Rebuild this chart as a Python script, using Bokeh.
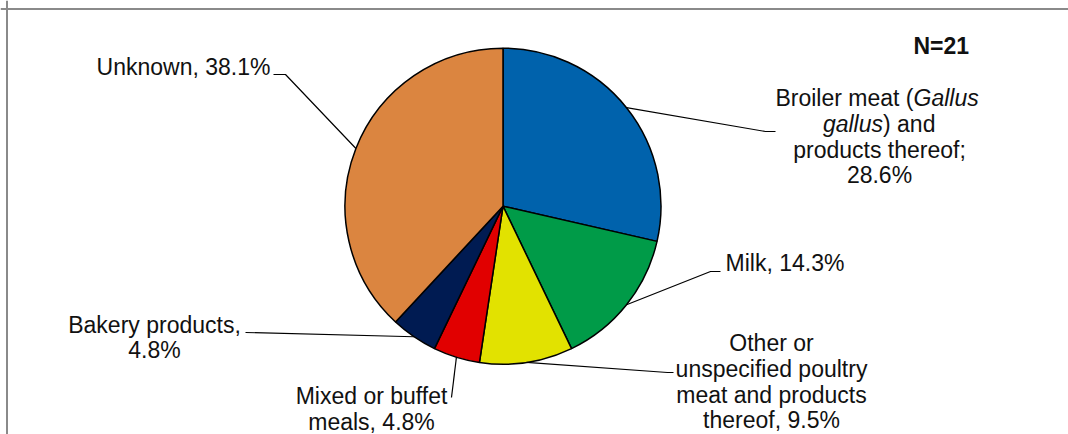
import numpy as np
from bokeh.plotting import figure
from bokeh.models import ColumnDataSource, Range1d, Span
from bokeh.embed import file_html
from bokeh.resources import INLINE
from bokeh.core.properties import value

# ---------------- data ----------------
categories = ["Broiler meat (Gallus gallus) and products thereof", "Milk",
              "Other or unspecified poultry meat and products thereof",
              "Mixed or buffet meals", "Bakery products", "Unknown"]
counts = [6, 3, 2, 1, 1, 8]
colors = ["#0062AC", "#009B48", "#E2E200", "#E10000", "#001B52", "#DB8540"]
total_label = "N=21"

# ---------------- layout helpers ----------------
W, H = 1068, 434
def X(px):  # reference pixel -> data x
    return px
def Y(py):  # reference pixel -> data y
    return H - py

total = sum(counts)
frac = np.array(counts, dtype=float) / total
pct = [f"{100 * f:.1f}%" for f in frac]
cum = np.concatenate([[0.0], np.cumsum(frac)])
start = np.pi / 2 - 2 * np.pi * cum[1:]
end = np.pi / 2 - 2 * np.pi * cum[:-1]
mid = (start + end) / 2

cx, cy, R = X(502.5), Y(205.7), 158.0

p = figure(width=W, height=H, output_backend="svg", toolbar_location=None,
           x_range=Range1d(0, W), y_range=Range1d(0, H),
           x_axis_location=None, y_axis_location=None, min_border=0)
p.grid.visible = False
p.outline_line_color = None
p.background_fill_color = "white"
p.border_fill_color = "white"

# frame border (top + left visible in the reference)
p.add_layout(Span(location=Y(8.5), dimension="width", line_color="#8a8a8a", line_width=2))
p.add_layout(Span(location=X(6.5), dimension="height", line_color="#8a8a8a", line_width=2))

src = ColumnDataSource(dict(cat=categories, count=counts, start=start, end=end, color=colors))
p.wedge(x=cx, y=cy, radius=R, start_angle="start", end_angle="end", fill_color="color",
        line_color="black", line_width=1.5, source=src)

# leader lines: from slice mid-angle on the rim to the label
elbows = [
    [(765, 131), (775, 131)],
    [(710, 271), (720, 271)],
    [(667, 372), (673, 372)],
    [(451, 397)],
    [(245, 332)],
    [(285, 74), (273, 74)],
]
xs, ys = [], []
for m, el in zip(mid, elbows):
    xs.append([cx + R * np.cos(m)] + [X(a) for a, b in el])
    ys.append([cy + R * np.sin(m)] + [Y(b) for a, b in el])
p.multi_line(xs=xs, ys=ys, line_color="black", line_width=1.2)

FONT = value("Liberation Sans")
FS = value("23px")
LH = 25.7
CAP = 8.3  # baseline -> cap-centre offset

def put(texts, x, y, align, style="normal"):
    xx = [X(x)] * len(texts) if isinstance(x, (int, float)) else [X(v) for v in x]
    p.text(x=xx, y=[Y(v - CAP) for v in y], text=texts, text_align=align,
           text_baseline="middle", text_font=FONT, text_font_size=FS,
           text_font_style=style, text_color="#111111")

# Broiler label (with italic species name)
b0 = 106.0
put(["Broiler meat ("], 913, [b0], "right")
put(["Gallus"], 913, [b0], "left", "italic")
put(["gallus"], 882.5, [b0 + LH], "right", "italic")
put([") and"], 882.5, [b0 + LH], "left")
put(["products thereof;", pct[0]], 879, [b0 + 2 * LH, b0 + 3 * LH], "center")

# Milk
put([f"Milk, {pct[1]}"], 725, [271], "left")
# Other poultry
o0 = 351.0
put(["Other or", "unspecified poultry", "meat and products", f"thereof, {pct[2]}"], 771,
    [o0, o0 + LH, o0 + 2 * LH, o0 + 3 * LH], "center")
# Mixed
put(["Mixed or buffet", f"meals, {pct[3]}"], 371, [404, 404 + LH], "center")
# Bakery
put(["Bakery products,", pct[4]], 154, [332.3, 332.3 + LH], "center")
# Unknown
put([f"Unknown, {pct[5]}"], 270, [75], "right")

# N label
put([total_label], 913, [54], "left", "bold")

open("out.html", "w").write(file_html(p, INLINE))
